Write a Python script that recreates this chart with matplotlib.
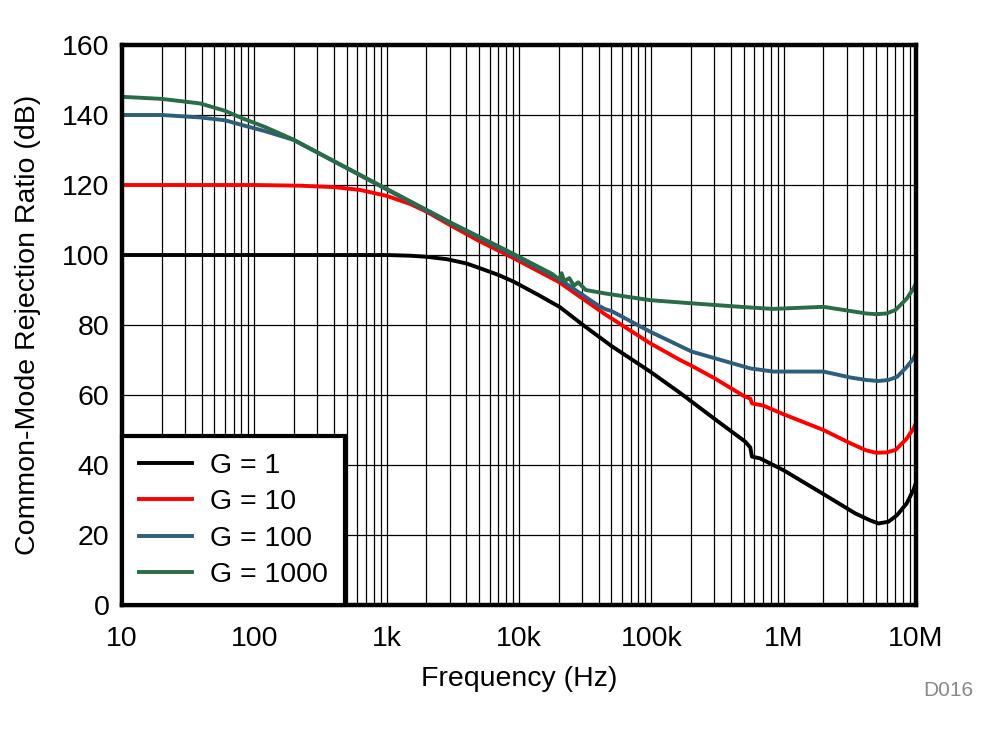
import matplotlib.pyplot as plt
from matplotlib.ticker import FixedLocator, NullFormatter, LogLocator

plt.rcParams['font.family'] = ['Liberation Sans', 'DejaVu Sans']

# G = 1
f_g1 = [10, 100, 500, 1000, 1500, 2000, 2850, 4000, 5100, 7000, 9100, 14000, 20400, 30500,
        50000, 98000, 165000, 202000, 300000, 512000, 560000, 576000, 664000, 1000000,
        2060000, 3470000, 4500000, 5200000, 6200000, 7200000, 8500000, 9600000, 10000000]
cmrr_g1 = [100, 100, 100, 100, 99.8, 99.5, 98.8, 97.6, 96.2, 94.3, 92.4, 88.6, 85.1, 80.0,
           74.0, 66.7, 60.6, 58.1, 53.2, 46.7, 45.0, 42.4, 41.9, 38.5,
           31.4, 26.2, 24.2, 23.3, 23.8, 25.7, 29.0, 33.0, 35.0]

# G = 10
f_g10 = [10, 100, 221, 400, 630, 1000, 1500, 2000, 3000, 5000, 9000, 20000, 45000, 98000,
         165000, 196000, 300000, 512000, 560000, 576000, 700000, 1000000, 2000000, 3200000,
         4200000, 5000000, 6000000, 7000000, 8500000, 9600000, 10000000]
cmrr_g10 = [120, 120, 119.8, 119.4, 118.6, 116.9, 114.6, 112.4, 108.6, 104.0, 99.2, 92.3, 83.0, 74.8,
            70.0, 68.6, 64.8, 59.5, 59.0, 57.6, 57.0, 54.5, 50.0, 46.2,
            44.2, 43.5, 43.6, 44.3, 47.5, 50.5, 52.0]

# G = 100
f_g100 = [10, 20, 39, 60, 78, 120, 197, 500, 1260, 3000, 9000, 20400, 40000, 45000, 50000, 98000,
          202000, 560000, 838000, 2000000, 3200000, 4200000, 5200000, 6200000, 7200000, 8500000,
          9600000, 10000000]
cmrr_g100 = [140, 140, 139.3, 138.5, 137.3, 135.4, 132.9, 124.8, 116.7, 109.2, 100.0, 93.0, 85.5, 84.5, 84.0, 78.1,
             72.4, 67.6, 66.7, 66.7, 65.0, 64.3, 64.0, 64.3, 65.2, 68.0, 70.5, 72.0]

# G = 1000
f_g1000 = [10, 20, 39, 60, 82, 120, 197, 500, 1260, 3000, 9000, 18000, 20000, 21000, 22000, 24000,
           26000, 28000, 32000, 45000, 98000, 202000, 560000, 838000, 2000000, 3200000,
           4200000, 5000000, 6000000, 7000000, 8500000, 9600000, 10000000]
cmrr_g1000 = [145.2, 144.6, 143.3, 141.2, 139.0, 136.6, 133.0, 124.9, 116.9, 109.4, 100.4, 94.5, 93.0, 94.8, 92.5,
              93.4, 91.2, 92.2, 90.0, 89.0, 87.1, 86.2, 85.0, 84.6, 85.2, 84.0,
              83.3, 83.1, 83.3, 84.3, 87.5, 90.5, 92.0]

labels = ['G = 1', 'G = 10', 'G = 100', 'G = 1000']
colors = ['#000000', '#FF0000', '#2E5E7C', '#2A6B48']

fig = plt.figure(figsize=(9.98, 7.34), dpi=100)
ax = fig.add_axes([0.1222, 0.1757, 0.7956, 0.763])

ax.plot(f_g1, cmrr_g1, color=colors[0], lw=2.8, label=labels[0])
ax.plot(f_g10, cmrr_g10, color=colors[1], lw=2.8, label=labels[1])
ax.plot(f_g100, cmrr_g100, color=colors[2], lw=2.8, label=labels[2])
ax.plot(f_g1000, cmrr_g1000, color=colors[3], lw=2.8, label=labels[3])

ax.set_xscale('log')
ax.set_xlim(10, 1e7)
ax.set_ylim(0, 160)
ax.xaxis.set_major_locator(FixedLocator([1e1, 1e2, 1e3, 1e4, 1e5, 1e6, 1e7]))
ax.set_xticklabels(['10', '100', '1k', '10k', '100k', '1M', '10M'])
ax.xaxis.set_minor_locator(LogLocator(base=10, subs=range(2, 10), numticks=20))
ax.xaxis.set_minor_formatter(NullFormatter())
ax.set_yticks(range(0, 161, 20))

ax.grid(True, which='both', axis='x', color='black', lw=0.9)
ax.grid(True, which='major', axis='y', color='black', lw=0.9)
ax.tick_params(which='both', length=0, labelsize=20.5)
ax.tick_params(axis='y', pad=9)
ax.tick_params(axis='x', pad=15)
for s in ax.spines.values():
    s.set_linewidth(3.2)

ax.set_xlabel('Frequency (Hz)', fontsize=20.5, labelpad=10)
ax.set_ylabel('Common-Mode Rejection Ratio (dB)', fontsize=20.5, labelpad=15)

leg = ax.legend(loc='lower left', fontsize=20.5, frameon=True, fancybox=False,
                borderaxespad=0, handlelength=1.85, handletextpad=0.65,
                labelspacing=0.36, borderpad=0.6)
leg.get_frame().set_edgecolor('black')
leg.get_frame().set_linewidth(3)
leg.get_frame().set_alpha(1)

fig.text(0.9499, 0.052, 'D016', fontsize=15, color='#888888', ha='center')

fig.savefig('out.png', dpi=100)
